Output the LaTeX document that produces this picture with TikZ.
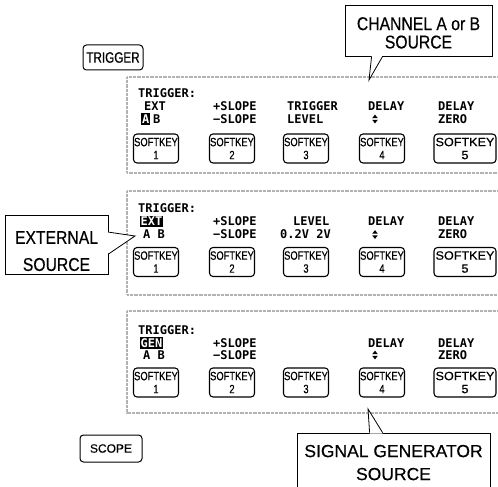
\documentclass[tikz,border=0pt]{standalone}
\usepackage{fontspec}
\setmainfont{Liberation Sans}
\newfontfamily\lcdfont{DejaVu Sans Mono}
\newfontfamily\keyfont[FakeStretch=0.78, FakeBold=0.6]{Liberation Sans}
\newfontfamily\widekeyfont[FakeStretch=1.05, FakeBold=0.6]{Liberation Sans}
\newfontfamily\calloutfont[FakeStretch=0.85, FakeBold=0.4]{Liberation Sans}
\newfontfamily\plainfont[FakeBold=0.4]{Liberation Sans}
\usetikzlibrary{calc}

% text block pushed down inside its box
\newcommand{\lowered}[2]{\raisebox{-#1}[\height][\depth]{\begin{tabular}{@{}c@{}}#2\end{tabular}}}

\tikzset{
  panel/.style={gray!60, line width=1.2pt, dash pattern=on 0.8pt off 0.5pt},
  hardkey/.style={draw, line width=1pt, rounded corners=3.5pt, inner sep=0pt},
  softkey/.style={draw, line width=1.1pt, rounded corners=3.5pt, inner sep=0pt, minimum width=45pt, minimum height=29pt, align=center, font=\keyfont\fontsize{12}{13}\selectfont},
  widekey/.style={minimum width=62pt, font=\widekeyfont\fontsize{12}{13}\selectfont},
  lcd/.style={anchor=west, inner sep=0pt, text height=8.7pt, text depth=0pt, font=\lcdfont\bfseries\fontsize{12}{12}\selectfont},
  lcdinv/.style={lcd, fill=black, text=white, inner xsep=1pt, inner ysep=1.2pt},
  callout/.style={draw, line width=0.8pt, inner sep=0pt},
  updown/.pic={
    \fill (-2.8,-0.8) -- (2.8,-0.8) -- (0,-4.4) -- cycle;
    \fill (-2.8,0.8) -- (2.8,0.8) -- (0,4.4) -- cycle;
  }
}

\begin{document}
\begin{tikzpicture}[x=1pt, y=-1pt]
\useasboundingbox (0,0) rectangle (498,487);

% front panel keys
\node[hardkey, minimum width=60pt, minimum height=25pt, font=\keyfont\fontsize{15}{15}\selectfont] (trigkey) at (113,57.5) {TRIGGER};
\node[hardkey, minimum width=62pt, minimum height=27pt, font=\plainfont\fontsize{12}{12}\selectfont] (scopekey) at (111,448.5) {SCOPE};

% the three screens
\draw[panel] (500,77) -- (127,77) -- (127,173) -- (500,173);
\draw[panel] (500,191) -- (127,191) -- (127,295) -- (500,295);
\draw[panel] (500,311) -- (127,311) -- (127,413) -- (500,413);

% softkeys under each screen
\foreach \p/\ky in {a/148.5, b/262, c/382.5}{
  \foreach \k/\kx in {1/156, 2/232, 3/306, 4/382}
    \node[softkey] (key\p\k) at (\kx,\ky) {SOFTKEY\\\k};
  \node[softkey, widekey] (key\p5) at (465,\ky) {SOFTKEY\\5};
}

% screen 1
\node[lcd] (trga) at (138,93) {TRIGGER:};
\node[lcd] (exta) at (144,106) {EXT};
\node[lcdinv] (chaa) at (141,119) {A};
\node[lcd] (chba) at (153,119) {B};
\node[lcd] (pslpa) at (213,106) {+SLOPE};
\node[lcd] (mslpa) at (213,119) {−SLOPE};
\node[lcd] (lvla) at (287,106) {TRIGGER};
\node[lcd] (lvla2) at (287,119) {LEVEL};
\node[lcd] (dlya) at (368,106) {DELAY};
\pic at (375,119) {updown};
\node[lcd] (zroa) at (438,106) {DELAY};
\node[lcd] (zroa2) at (438,119) {ZERO};

% screen 2
\node[lcd] (trgb) at (138,208.5) {TRIGGER:};
\node[lcdinv] (extb) at (139.5,221.5) {EXT};
\node[lcd] (chb) at (143,234.5) {A B};
\node[lcd] (pslpb) at (213,221.5) {+SLOPE};
\node[lcd] (mslpb) at (213,234.5) {−SLOPE};
\node[lcd] (lvlb) at (293,221.5) {LEVEL};
\node[lcd] (lvlb2) at (280,234.5) {0.2V 2V};
\node[lcd] (dlyb) at (368,221.5) {DELAY};
\pic at (375,234.5) {updown};
\node[lcd] (zrob) at (438,221.5) {DELAY};
\node[lcd] (zrob2) at (438,234.5) {ZERO};

% screen 3
\node[lcd] (trgc) at (138,330) {TRIGGER:};
\node[lcdinv] (genc) at (139.5,343) {GEN};
\node[lcd] (chc) at (143,355) {A B};
\node[lcd] (pslpc) at (213,343) {+SLOPE};
\node[lcd] (mslpc) at (213,355) {−SLOPE};
\node[lcd] (dlyc) at (368,343) {DELAY};
\pic at (375,355) {updown};
\node[lcd] (zroc) at (438,343) {DELAY};
\node[lcd] (zroc2) at (438,355) {ZERO};

% callouts
\node[callout, minimum width=147pt, minimum height=51pt, font=\calloutfont\fontsize{18.5}{18}\selectfont] (chan) at (418.5,30.5) {\lowered{5pt}{CHANNEL A or B\\SOURCE}};
\coordinate (chantip) at (369,80);
\fill[white] ($(chan.south west)+(27,-1)$) -- (chantip) -- ($(chan.south west)+(38,-1)$) -- cycle;
\draw[line width=0.8pt] ($(chan.south west)+(27,0)$) -- (chantip) -- ($(chan.south west)+(38,0)$);

\node[callout, minimum width=103pt, minimum height=59pt, font=\calloutfont\fontsize{18.5}{27}\selectfont] (ext) at (56.5,245) {\lowered{7pt}{EXTERNAL\\SOURCE}};
\coordinate (exttip) at (135,236);
\fill[white] ($(ext.north east)+(-1,17)$) -- (exttip) -- ($(ext.north east)+(-1,39)$) -- cycle;
\draw[line width=0.8pt] ($(ext.north east)+(0,17)$) -- (exttip) -- ($(ext.north east)+(0,39)$);

\node[callout, minimum width=193pt, minimum height=62pt, font=\plainfont\fontsize{17.5}{23}\selectfont] (sig) at (393.5,464) {\lowered{0pt}{SIGNAL GENERATOR\\SOURCE}};
\coordinate (sigtip) at (368,409);
\fill[white] ($(sig.north west)+(73,1)$) -- (sigtip) -- ($(sig.north west)+(86,1)$) -- cycle;
\draw[line width=0.8pt] ($(sig.north west)+(73,0)$) -- (sigtip) -- ($(sig.north west)+(86,0)$);
\end{tikzpicture}
\end{document}
